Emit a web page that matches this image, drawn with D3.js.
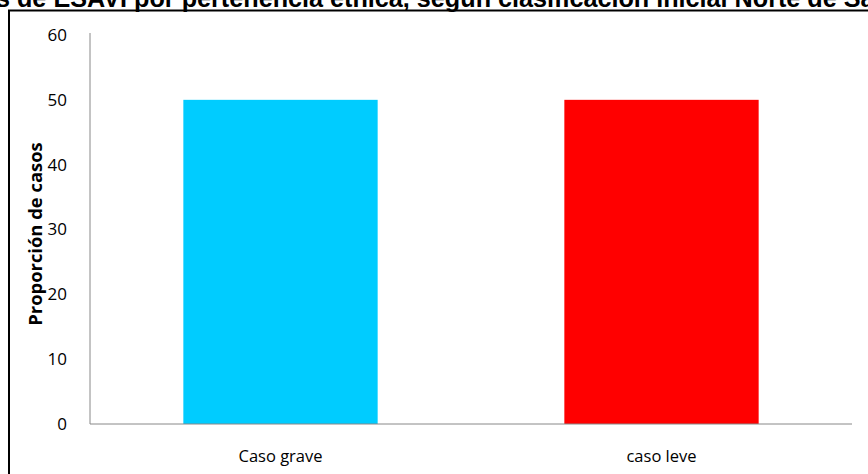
<!DOCTYPE html>
<html><head><meta charset="utf-8">
<script src="https://cdn.jsdelivr.net/npm/d3@7"></script>
<style>body{margin:0;background:#fff;overflow:hidden}</style>
</head><body>
<svg id="c" width="868" height="474"></svg>
<script>
const categories = ["Caso grave", "caso leve"];
const values = [50, 50];
const colors = ["#00CCFF", "#FF0000"];
const yTicks = [0, 10, 20, 30, 40, 50, 60];
const title = "Casos de ESAVI por pertenencia étnica, según clasificación inicial Norte de Santander";
const yTitle = "Proporción de casos";

const svg = d3.select("#c");
const m = {left: 90, right: 852, top: 35, bottom: 424};
const font = "'Open Sans', sans-serif";

svg.append("rect").attr("x", 9).attr("y", 10.5).attr("width", 900).attr("height", 500)
  .attr("fill", "none").attr("stroke", "#000").attr("stroke-width", 2);

const t = svg.append("text").attr("x", 0).attr("y", 6.5)
  .attr("font-family", "'Liberation Sans', Arial, sans-serif").attr("font-weight", "bold")
  .attr("font-size", 25.2).text(title);
const idx = title.indexOf(" de ESAVI") + 1;
const off = t.node().getSubStringLength(0, idx);
t.attr("x", 17 - off);

const x = d3.scaleBand().domain(categories).range([m.left, m.right]).paddingInner(0.49).paddingOuter(0.245);
const y = d3.scaleLinear().domain([0, 60]).range([m.bottom, m.top]);

svg.selectAll("rect.bar").data(values).join("rect").attr("class", "bar")
  .attr("x", (d, i) => x(categories[i])).attr("width", x.bandwidth())
  .attr("y", d => y(d)).attr("height", d => y(0) - y(d))
  .attr("fill", (d, i) => colors[i]);

const ya = svg.append("g").attr("transform", `translate(${m.left},0)`)
  .call(d3.axisLeft(y).tickValues(yTicks).tickSize(0).tickPadding(23));
ya.select(".domain").attr("stroke", "#888").attr("d", `M0,${m.top - 2}V${m.bottom}`);
ya.selectAll("text").attr("font-family", font).attr("font-size", 17).attr("fill", "#000");

const xa = svg.append("g").attr("transform", `translate(0,${m.bottom})`)
  .call(d3.axisBottom(x).tickSize(0).tickPadding(26));
xa.select(".domain").attr("stroke", "#888").attr("d", `M${m.left},0H${m.right}`);
xa.selectAll("text").attr("font-family", font).attr("font-size", 16.5).attr("fill", "#000");

svg.append("text").attr("transform", "translate(42,234) rotate(-90)").attr("text-anchor", "middle")
  .attr("font-family", font).attr("font-weight", "bold").attr("font-size", 18.4)
  .text(yTitle);
</script>
</body></html>
